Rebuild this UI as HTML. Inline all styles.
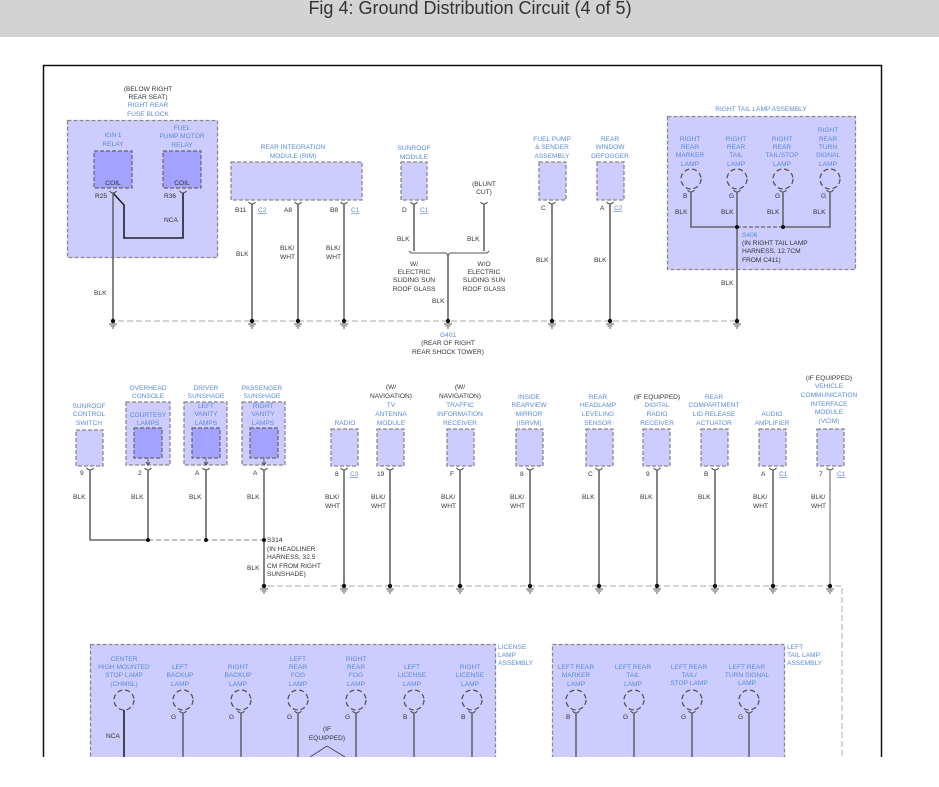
<!DOCTYPE html>
<html><head><meta charset="utf-8"><style>
html,body{margin:0;padding:0;background:#fff;width:939px;height:787px;overflow:hidden}
svg{position:absolute;left:0;top:0}
text{font-family:"Liberation Sans",sans-serif;font-size:6.6px}
.b{fill:#5b8ad6;text-anchor:middle}
.bl{fill:#5b8ad6}
.d{fill:#333;text-anchor:middle}
.dl{fill:#333}
.u{fill:#5b8ad6;text-decoration:underline}
.box{fill:#ccccff;stroke:#888;stroke-width:1.3;stroke-dasharray:4 2}
.in{fill:#a3a3ff;stroke:#666;stroke-width:1.2;stroke-dasharray:4 2}
.w{stroke:#666;stroke-width:1.6;fill:none}
.wk{stroke:#222;stroke-width:1.6;fill:none}
.bus{stroke:#bbb;stroke-width:1.2;stroke-dasharray:6 3;fill:none}
.lamp{fill:none;stroke:#555;stroke-width:1.3;stroke-dasharray:5 3}
</style></head><body>
<svg width="939" height="787" viewBox="0 0 939 787">
<defs>
<g id="gnd"><circle cx="0" cy="0" r="2.2" fill="#111"/><path d="M-4 3H4M-2.5 5H2.5M-1 7H1" stroke="#555" stroke-width="0.9"/></g>
<g id="cup"><path d="M-3.5 0Q0 4 3.5 0" stroke="#555" stroke-width="1" fill="none"/></g>
</defs>
<rect x="0" y="0" width="939" height="37" fill="#d3d3d3"/>
<text x="470" y="14" style="font-size:18px;fill:#333;text-anchor:middle">Fig 4: Ground Distribution Circuit (4 of 5)</text>
<rect x="43.5" y="65.5" width="838" height="720" fill="#fff" stroke="#111" stroke-width="1.5"/>

<!-- TOP: fuse block -->
<text class="d" x="148" y="91">(BELOW RIGHT</text><text class="d" x="148" y="99">REAR SEAT)</text>
<text class="b" x="148" y="107">RIGHT REAR</text><text class="b" x="148" y="116">FUSE BLOCK</text>
<rect class="box" x="67.5" y="120.5" width="150" height="137"/>
<text class="b" x="113" y="137">IGN 1</text><text class="b" x="113" y="146">RELAY</text>
<rect class="in" x="94" y="151" width="38" height="37"/>
<text class="d" x="113" y="185">COIL</text>
<text class="b" x="182" y="130">FUEL</text><text class="b" x="182" y="138">PUMP MOTOR</text><text class="b" x="182" y="147">RELAY</text>
<rect class="in" x="163" y="151" width="38" height="37"/>
<text class="d" x="182" y="185">COIL</text>
<text class="dl" x="95" y="198">R25</text><text class="dl" x="164" y="198">R36</text>
<use href="#cup" x="113" y="191"/><use href="#cup" x="183" y="191"/>
<path class="wk" d="M113 193L124 205V238H183V193"/>
<path class="w" d="M113 193V321"/>
<text class="dl" x="164" y="222">NCA</text>
<text class="dl" x="94" y="295">BLK</text>

<!-- RIM -->
<text class="b" x="293" y="149">REAR INTEGRATION</text><text class="b" x="293" y="158">MODULE (RIM)</text>
<rect class="box" x="231" y="162" width="131" height="38"/>
<use href="#cup" x="252" y="202"/><use href="#cup" x="298" y="202"/><use href="#cup" x="344" y="202"/>
<text class="dl" x="235" y="212">B11</text><text class="u" x="258" y="212">C2</text>
<text class="dl" x="284" y="212">A8</text><text class="dl" x="330" y="212">B8</text><text class="u" x="351" y="212">C1</text>
<path class="w" d="M252 204V321M298 204V321M344 204V321"/>
<text class="dl" x="236" y="256">BLK</text>
<text class="dl" x="280" y="250">BLK/</text><text class="dl" x="280" y="259">WHT</text>
<text class="dl" x="326" y="250">BLK/</text><text class="dl" x="326" y="259">WHT</text>

<!-- sunroof module -->
<text class="b" x="414" y="150">SUNROOF</text><text class="b" x="414" y="159">MODULE</text>
<rect class="box" x="401" y="162" width="26" height="38"/>
<use href="#cup" x="414" y="202"/><use href="#cup" x="484" y="202"/>
<text class="dl" x="402" y="212">D</text><text class="u" x="420" y="212">C1</text>
<text class="d" x="484" y="186">(BLUNT</text><text class="d" x="484" y="194">CUT)</text>
<path class="w" d="M414 204V251M484 204V251M448 255V321"/>
<path d="M409 251L411 253H446L448 255L450 253H487L489 251" stroke="#555" stroke-width="1" fill="none"/>
<text class="dl" x="397" y="241">BLK</text><text class="dl" x="467" y="241">BLK</text>
<text class="d" x="414" y="266">W/</text><text class="d" x="414" y="274">ELECTRIC</text><text class="d" x="414" y="282">SLIDING SUN</text><text class="d" x="414" y="291">ROOF GLASS</text>
<text class="d" x="484" y="266">W/O</text><text class="d" x="484" y="274">ELECTRIC</text><text class="d" x="484" y="282">SLIDING SUN</text><text class="d" x="484" y="291">ROOF GLASS</text>
<text class="dl" x="432" y="303">BLK</text>
<text class="b" x="448" y="337">G401</text><text class="d" x="448" y="345">(REAR OF RIGHT</text><text class="d" x="448" y="354">REAR SHOCK TOWER)</text>

<!-- fuel pump / defogger -->
<text class="b" x="552" y="141">FUEL PUMP</text><text class="b" x="552" y="149">&amp; SENDER</text><text class="b" x="552" y="158">ASSEMBLY</text>
<rect class="box" x="539" y="162" width="27" height="38"/>
<text class="b" x="610" y="141">REAR</text><text class="b" x="610" y="149">WINDOW</text><text class="b" x="610" y="158">DEFOGGER</text>
<rect class="box" x="597" y="162" width="27" height="38"/>
<use href="#cup" x="552" y="202"/><use href="#cup" x="610" y="202"/>
<text class="dl" x="541" y="210">C</text><text class="dl" x="600" y="210">A</text><text class="u" x="614" y="210">C2</text>
<path class="w" d="M552 204V321M610 204V321"/>
<text class="dl" x="536" y="262">BLK</text><text class="dl" x="594" y="262">BLK</text>

<!-- right tail lamp -->
<text class="b" x="761" y="111">RIGHT TAIL LAMP ASSEMBLY</text>
<rect class="box" x="667.5" y="116.5" width="188" height="153"/>
<text class="b" x="690" y="141">RIGHT</text><text class="b" x="690" y="149">REAR</text><text class="b" x="690" y="157">MARKER</text><text class="b" x="690" y="166">LAMP</text>
<text class="b" x="736" y="141">RIGHT</text><text class="b" x="736" y="149">REAR</text><text class="b" x="736" y="157">TAIL</text><text class="b" x="736" y="166">LAMP</text>
<text class="b" x="782" y="141">RIGHT</text><text class="b" x="782" y="149">REAR</text><text class="b" x="782" y="157">TAIL/STOP</text><text class="b" x="782" y="166">LAMP</text>
<text class="b" x="828" y="132">RIGHT</text><text class="b" x="828" y="141">REAR</text><text class="b" x="828" y="149">TURN</text><text class="b" x="828" y="157">SIGNAL</text><text class="b" x="828" y="166">LAMP</text>
<circle class="lamp" cx="691" cy="179" r="10"/><circle class="lamp" cx="737" cy="179" r="10"/><circle class="lamp" cx="783" cy="179" r="10"/><circle class="lamp" cx="830" cy="179" r="10"/>
<use href="#cup" x="691" y="190"/><use href="#cup" x="737" y="190"/><use href="#cup" x="783" y="190"/><use href="#cup" x="830" y="190"/>
<text class="dl" x="683" y="198">B</text><text class="dl" x="729" y="198">G</text><text class="dl" x="775" y="198">G</text><text class="dl" x="821" y="198">G</text>
<path class="w" d="M691 192V227H737M737 192V321M783 192V227M830 192V227H783"/>
<path d="M737 227H783" stroke="#666" stroke-width="1.2" stroke-dasharray:4 2" stroke-dasharray="4 2"/>
<circle cx="737" cy="227" r="2" fill="#111"/><circle cx="783" cy="227" r="2" fill="#111"/>
<text class="dl" x="675" y="214">BLK</text><text class="dl" x="721" y="214">BLK</text><text class="dl" x="767" y="214">BLK</text><text class="dl" x="813" y="214">BLK</text>
<text class="bl" x="742" y="237">S406</text><text class="dl" x="742" y="245">(IN RIGHT TAIL LAMP</text><text class="dl" x="742" y="253">HARNESS, 12.7CM</text><text class="dl" x="742" y="262">FROM C411)</text>
<text class="dl" x="721" y="285">BLK</text>

<!-- top bus -->
<path class="bus" d="M118 321H735"/>
<use href="#gnd" x="113" y="321"/><use href="#gnd" x="252" y="321"/><use href="#gnd" x="298" y="321"/><use href="#gnd" x="344" y="321"/><use href="#gnd" x="448" y="321"/><use href="#gnd" x="552" y="321"/><use href="#gnd" x="610" y="321"/><use href="#gnd" x="737" y="321"/>

<!-- MIDDLE -->
<text class="b" x="89" y="408">SUNROOF</text><text class="b" x="89" y="416">CONTROL</text><text class="b" x="89" y="425">SWITCH</text>
<rect class="box" x="76" y="430" width="27" height="36"/>
<text class="b" x="148" y="390">OVERHEAD</text><text class="b" x="148" y="398">CONSOLE</text>
<rect class="box" x="126" y="402" width="44" height="63"/>
<text class="b" x="148" y="417">COURTESY</text><text class="b" x="148" y="425">LAMPS</text>
<rect class="in" x="134" y="428" width="28" height="30"/>
<text class="b" x="206" y="390">DRIVER</text><text class="b" x="206" y="398">SUNSHADE</text>
<rect class="box" x="184" y="402" width="43" height="63"/>
<text class="b" x="206" y="408">LEFT</text><text class="b" x="206" y="416">VANITY</text><text class="b" x="206" y="425">LAMPS</text>
<rect class="in" x="192" y="428" width="28" height="30"/>
<text class="b" x="262" y="390">PASSENGER</text><text class="b" x="262" y="398">SUNSHADE</text>
<rect class="box" x="242" y="402" width="43" height="63"/>
<text class="b" x="263" y="408">RIGHT</text><text class="b" x="263" y="416">VANITY</text><text class="b" x="263" y="425">LAMPS</text>
<rect class="in" x="250" y="428" width="28" height="30"/>
<path d="M148 458V464M146 462L148 465L150 462M206 458V464M204 462L206 465L208 462M264 458V464M262 462L264 465L266 462" stroke="#444" stroke-width="0.8" fill="none"/>
<use href="#cup" x="90" y="468"/><use href="#cup" x="148" y="468"/><use href="#cup" x="206" y="468"/><use href="#cup" x="264" y="468"/>
<text class="dl" x="80" y="475">9</text><text class="dl" x="138" y="475">2</text><text class="dl" x="195" y="475">A</text><text class="dl" x="253" y="475">A</text>
<path class="w" d="M90 470V540H148M148 470V540M206 470V540M264 470V584"/>
<path d="M148 540H264" stroke="#999" stroke-width="1.2" stroke-dasharray="5 3"/>
<circle cx="148" cy="540" r="2" fill="#111"/><circle cx="206" cy="540" r="2" fill="#111"/><circle cx="264" cy="540" r="2" fill="#111"/>
<text class="dl" x="73" y="499">BLK</text><text class="dl" x="131" y="499">BLK</text><text class="dl" x="189" y="499">BLK</text><text class="dl" x="247" y="499">BLK</text>
<text class="dl" x="267" y="542">S314</text><text class="dl" x="267" y="551">(IN HEADLINER</text><text class="dl" x="267" y="559">HARNESS, 32.5</text><text class="dl" x="267" y="568">CM FROM RIGHT</text><text class="dl" x="267" y="576">SUNSHADE)</text>
<text class="dl" x="247" y="570">BLK</text>

<text class="b" x="345" y="425">RADIO</text>
<rect class="box" x="331" y="429" width="27" height="37"/>
<text class="d" x="391" y="389">(W/</text><text class="d" x="391" y="398">NAVIGATION)</text><text class="b" x="391" y="407">TV</text><text class="b" x="391" y="416">ANTENNA</text><text class="b" x="391" y="425">MODULE</text>
<rect class="box" x="377" y="429" width="27" height="37"/>
<text class="d" x="460" y="389">(W/</text><text class="d" x="460" y="398">NAVIGATION)</text><text class="b" x="460" y="407">TRAFFIC</text><text class="b" x="460" y="416">INFORMATION</text><text class="b" x="460" y="425">RECEIVER</text>
<rect class="box" x="447" y="429" width="27" height="37"/>
<text class="b" x="529" y="399">INSIDE</text><text class="b" x="529" y="407">REARVIEW</text><text class="b" x="529" y="416">MIRROR</text><text class="b" x="529" y="425">(ISRVM)</text>
<rect class="box" x="516" y="429" width="27" height="37"/>
<text class="b" x="598" y="399">REAR</text><text class="b" x="598" y="407">HEADLAMP</text><text class="b" x="598" y="416">LEVELING</text><text class="b" x="598" y="425">SENSOR</text>
<rect class="box" x="586" y="429" width="27" height="37"/>
<text class="d" x="657" y="399">(IF EQUIPPED)</text><text class="b" x="657" y="407">DIGITAL</text><text class="b" x="657" y="416">RADIO</text><text class="b" x="657" y="425">RECEIVER</text>
<rect class="box" x="643" y="429" width="27" height="37"/>
<text class="b" x="714" y="399">REAR</text><text class="b" x="714" y="407">COMPARTMENT</text><text class="b" x="714" y="416">LID RELEASE</text><text class="b" x="714" y="425">ACTUATOR</text>
<rect class="box" x="701" y="429" width="27" height="37"/>
<text class="b" x="772" y="416">AUDIO</text><text class="b" x="772" y="425">AMPLIFIER</text>
<rect class="box" x="759" y="429" width="27" height="37"/>
<text class="d" x="829" y="380">(IF EQUIPPED)</text><text class="b" x="829" y="388">VEHICLE</text><text class="b" x="829" y="397">COMMUNICATION</text><text class="b" x="829" y="406">INTERFACE</text><text class="b" x="829" y="414">MODULE</text><text class="b" x="829" y="423">(VCIM)</text>
<rect class="box" x="817" y="429" width="27" height="37"/>
<use href="#cup" x="344" y="468"/><use href="#cup" x="390" y="468"/><use href="#cup" x="460" y="468"/><use href="#cup" x="530" y="468"/><use href="#cup" x="599" y="468"/><use href="#cup" x="657" y="468"/><use href="#cup" x="715" y="468"/><use href="#cup" x="773" y="468"/><use href="#cup" x="830" y="468"/>
<text class="dl" x="335" y="476">8</text><text class="u" x="350" y="476">C3</text>
<text class="dl" x="377" y="476">19</text><text class="dl" x="450" y="476">F</text><text class="dl" x="520" y="476">8</text><text class="dl" x="588" y="476">C</text>
<text class="dl" x="646" y="476">9</text><text class="dl" x="704" y="476">B</text><text class="dl" x="761" y="476">A</text><text class="u" x="779" y="476">C1</text>
<text class="dl" x="819" y="476">7</text><text class="u" x="837" y="476">C1</text>
<path class="w" d="M344 470V586M390 470V586M460 470V586M530 470V586M599 470V586M657 470V586M715 470V586M773 470V586"/>
<path d="M830 470V586" stroke="#999" stroke-width="1.6"/>
<text class="dl" x="325" y="499">BLK/</text><text class="dl" x="325" y="508">WHT</text>
<text class="dl" x="371" y="499">BLK/</text><text class="dl" x="371" y="508">WHT</text>
<text class="dl" x="441" y="499">BLK/</text><text class="dl" x="441" y="508">WHT</text>
<text class="dl" x="510" y="499">BLK/</text><text class="dl" x="510" y="508">WHT</text>
<text class="dl" x="582" y="499">BLK</text><text class="dl" x="640" y="499">BLK</text><text class="dl" x="698" y="499">BLK</text>
<text class="dl" x="753" y="499">BLK/</text><text class="dl" x="753" y="508">WHT</text>
<text class="dl" x="811" y="499">BLK/</text><text class="dl" x="811" y="508">WHT</text>
<path class="bus" d="M268 586H842V757"/>
<use href="#gnd" x="264" y="586"/><use href="#gnd" x="344" y="586"/><use href="#gnd" x="390" y="586"/><use href="#gnd" x="460" y="586"/><use href="#gnd" x="530" y="586"/><use href="#gnd" x="599" y="586"/><use href="#gnd" x="657" y="586"/><use href="#gnd" x="715" y="586"/><use href="#gnd" x="773" y="586"/><use href="#gnd" x="830" y="586"/>

<!-- BOTTOM -->
<rect class="box" x="90.5" y="644.5" width="405" height="140"/>
<text class="bl" x="498" y="649">LICENSE</text><text class="bl" x="498" y="657">LAMP</text><text class="bl" x="498" y="665">ASSEMBLY</text>
<text class="b" x="124" y="661">CENTER</text><text class="b" x="124" y="669">HIGH MOUNTED</text><text class="b" x="124" y="677">STOP LAMP</text><text class="b" x="124" y="686">(CHMSL)</text>
<text class="b" x="180" y="669">LEFT</text><text class="b" x="180" y="677">BACKUP</text><text class="b" x="180" y="686">LAMP</text>
<text class="b" x="238" y="669">RIGHT</text><text class="b" x="238" y="677">BACKUP</text><text class="b" x="238" y="686">LAMP</text>
<text class="b" x="298" y="661">LEFT</text><text class="b" x="298" y="669">REAR</text><text class="b" x="298" y="677">FOG</text><text class="b" x="298" y="686">LAMP</text>
<text class="b" x="356" y="661">RIGHT</text><text class="b" x="356" y="669">REAR</text><text class="b" x="356" y="677">FOG</text><text class="b" x="356" y="686">LAMP</text>
<text class="b" x="412" y="669">LEFT</text><text class="b" x="412" y="677">LICENSE</text><text class="b" x="412" y="686">LAMP</text>
<text class="b" x="470" y="669">RIGHT</text><text class="b" x="470" y="677">LICENSE</text><text class="b" x="470" y="686">LAMP</text>
<circle class="lamp" cx="124" cy="700" r="10"/><circle class="lamp" cx="183" cy="700" r="10"/><circle class="lamp" cx="241" cy="700" r="10"/><circle class="lamp" cx="298" cy="700" r="10"/><circle class="lamp" cx="356" cy="700" r="10"/><circle class="lamp" cx="414" cy="700" r="10"/><circle class="lamp" cx="472" cy="700" r="10"/>
<use href="#cup" x="183" y="711"/><use href="#cup" x="241" y="711"/><use href="#cup" x="298" y="711"/><use href="#cup" x="356" y="711"/><use href="#cup" x="414" y="711"/><use href="#cup" x="472" y="711"/>
<text class="dl" x="171" y="719">G</text><text class="dl" x="229" y="719">G</text><text class="dl" x="287" y="719">G</text><text class="dl" x="345" y="719">G</text><text class="dl" x="403" y="719">B</text><text class="dl" x="461" y="719">B</text>
<path class="wk" d="M124 710V760"/>
<path class="w" d="M183 713V760M241 713V760M298 713V760M356 713V760M414 713V760M472 713V760"/>
<text class="dl" x="106" y="738">NCA</text>
<text class="d" x="327" y="731">(IF</text><text class="d" x="327" y="740">EQUIPPED)</text>
<path d="M310 757L327 746L345 757" stroke="#444" stroke-width="0.9" fill="none"/>

<rect class="box" x="552.5" y="644.5" width="232" height="140"/>
<text class="bl" x="787" y="649">LEFT</text><text class="bl" x="787" y="657">TAIL LAMP</text><text class="bl" x="787" y="665">ASSEMBLY</text>
<text class="b" x="576" y="669">LEFT REAR</text><text class="b" x="576" y="677">MARKER</text><text class="b" x="576" y="686">LAMP</text>
<text class="b" x="633" y="669">LEFT REAR</text><text class="b" x="633" y="677">TAIL</text><text class="b" x="633" y="686">LAMP</text>
<text class="b" x="689" y="669">LEFT REAR</text><text class="b" x="689" y="677">TAIL/</text><text class="b" x="689" y="685">STOP LAMP</text>
<text class="b" x="747" y="669">LEFT REAR</text><text class="b" x="747" y="677">TURN SIGNAL</text><text class="b" x="747" y="685">LAMP</text>
<circle class="lamp" cx="576" cy="700" r="10"/><circle class="lamp" cx="634" cy="700" r="10"/><circle class="lamp" cx="692" cy="700" r="10"/><circle class="lamp" cx="749" cy="700" r="10"/>
<use href="#cup" x="576" y="711"/><use href="#cup" x="634" y="711"/><use href="#cup" x="692" y="711"/><use href="#cup" x="749" y="711"/>
<text class="dl" x="566" y="719">B</text><text class="dl" x="623" y="719">G</text><text class="dl" x="681" y="719">G</text><text class="dl" x="738" y="719">G</text>
<path class="w" d="M576 713V760M634 713V760M692 713V760M749 713V760"/>

<rect x="0" y="757" width="939" height="30" fill="#fff"/>
</svg>
</body></html>
